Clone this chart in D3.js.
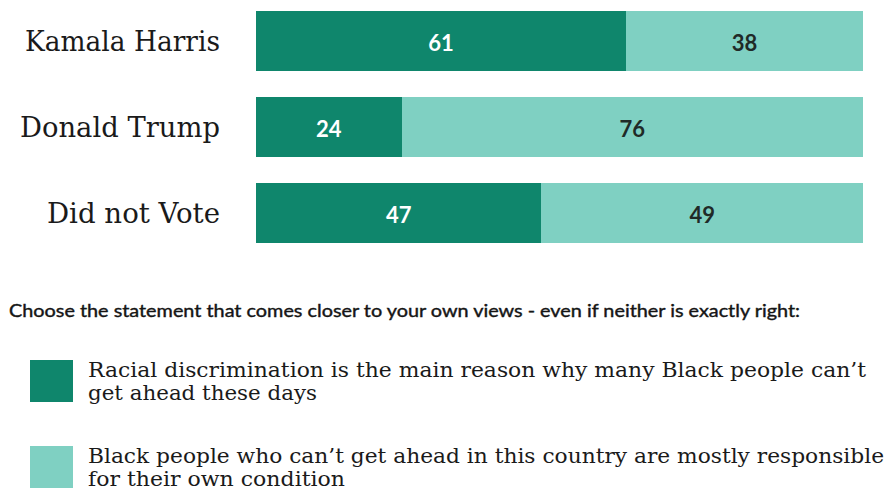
<!DOCTYPE html>
<html>
<head>
<meta charset="utf-8">
<script src="https://cdn.jsdelivr.net/npm/d3@7"></script>
<style>
  html, body { margin: 0; padding: 0; background: #ffffff; }
  svg { display: block; }
</style>
</head>
<body>
<svg id="chart" width="889" height="494"></svg>
<script>
// Survey groups and the share choosing each statement (percent)
const groups = ["Kamala Harris", "Donald Trump", "Did not Vote"];
const discrimination = [61, 24, 47];
const responsibility = [38, 76, 49];

const question = "Choose the statement that comes closer to your own views - even if neither is exactly right:";
const legendLabels = [
  ["Racial discrimination is the main reason why many Black people can\u2019t", "get ahead these days"],
  ["Black people who can\u2019t get ahead in this country are mostly responsible", "for their own condition"]
];

const darkTeal = "#0f866c";
const lightTeal = "#7fd0c2";

const svg = d3.select("#chart");

const x = d3.scaleLinear().domain([0, 100]).range([256, 863]);
const y = d3.scaleBand().domain(groups).range([11, 243]).paddingInner(26 / 86).paddingOuter(0);

const serif = "'DejaVu Serif', 'Liberation Serif', serif";
const sans = "Lato, 'Open Sans', sans-serif";

// Rendered widths of the group labels
const labelWidths = [195, 200, 173];

const rows = groups.map((g, i) => ({
  group: g,
  a: discrimination[i],
  b: responsibility[i],
  w: labelWidths[i]
}));

const row = svg.selectAll("g.row").data(rows).join("g")
  .attr("class", "row")
  .attr("transform", d => `translate(0,${y(d.group)})`);

// Light segment: personal responsibility, with any unanswered share continuing the bar to 100
row.append("rect")
  .attr("x", d => x(d.a))
  .attr("width", d => x(d.a + d.b) - x(d.a))
  .attr("height", y.bandwidth())
  .attr("fill", lightTeal)
  .attr("shape-rendering", "crispEdges");

row.append("rect")
  .attr("x", d => x(d.a + d.b) - 1)
  .attr("width", d => Math.max(0, x(100) - x(d.a + d.b) + 1))
  .attr("height", y.bandwidth())
  .attr("fill", lightTeal)
  .attr("shape-rendering", "crispEdges");

// Dark segment: racial discrimination
row.append("rect")
  .attr("x", x(0))
  .attr("width", d => x(d.a) - x(0))
  .attr("height", y.bandwidth())
  .attr("fill", darkTeal)
  .attr("shape-rendering", "crispEdges");

// Value labels
row.append("text")
  .attr("x", d => (x(0) + x(d.a)) / 2)
  .attr("y", y.bandwidth() / 2 + 9.5)
  .attr("text-anchor", "middle")
  .attr("font-family", sans)
  .attr("font-weight", 700)
  .attr("font-size", 22)
  .attr("fill", "#ffffff")
  .text(d => d.a);

row.append("text")
  .attr("x", d => (x(d.a) + x(100)) / 2)
  .attr("y", y.bandwidth() / 2 + 9.5)
  .attr("text-anchor", "middle")
  .attr("font-family", sans)
  .attr("font-weight", 700)
  .attr("font-size", 22)
  .attr("fill", "#1f2a27")
  .text(d => d.b);

// Group labels
row.append("text")
  .attr("x", 220)
  .attr("y", y.bandwidth() / 2 + 10)
  .attr("text-anchor", "end")
  .attr("font-family", serif)
  .attr("font-size", 28)
  .attr("fill", "#1a1a1a")
  .attr("textLength", d => d.w)
  .attr("lengthAdjust", "spacingAndGlyphs")
  .text(d => d.group);

// Question text
svg.append("text")
  .attr("x", 9)
  .attr("y", 317)
  .attr("font-family", sans)
  .attr("font-size", 17.5)
  .attr("font-weight", 400)
  .attr("fill", "#151515")
  .attr("stroke", "#151515")
  .attr("stroke-width", 0.4)
  .attr("textLength", 791)
  .attr("lengthAdjust", "spacingAndGlyphs")
  .text(question);

// Legend
const legendTop = [360, 446];
const legendWidths = [[778, 229], [796, 257]];
const legend = svg.selectAll("g.legend").data(legendLabels).join("g")
  .attr("class", "legend")
  .attr("transform", (d, i) => `translate(0,${legendTop[i]})`);

legend.append("rect")
  .attr("x", 30)
  .attr("y", 0)
  .attr("width", 43)
  .attr("height", 42)
  .attr("fill", (d, i) => i === 0 ? darkTeal : lightTeal);

legend.each(function(lines, i) {
  const g = d3.select(this);
  lines.forEach((line, j) => {
    g.append("text")
      .attr("x", 88)
      .attr("y", 17 + j * 23)
      .attr("font-family", serif)
      .attr("font-size", 21)
      .attr("fill", "#1a1a1a")
      .attr("textLength", legendWidths[i][j])
      .attr("lengthAdjust", "spacingAndGlyphs")
      .text(line);
  });
});
</script>
</body>
</html>
